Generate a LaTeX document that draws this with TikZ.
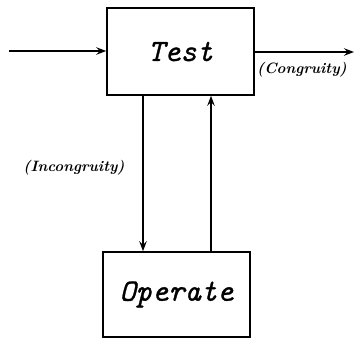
\documentclass[tikz,border=0pt]{standalone}
\usepackage{fontspec}
\usetikzlibrary{arrows.meta}
\newfontfamily\blockfont[FakeBold=1]{Latin Modern Mono}
\tikzset{
  block/.style={draw, line width=1.6pt, inner sep=0pt, minimum width=147pt,
    font=\fontsize{31}{31}\selectfont\blockfont\itshape},
  flow/.style={line width=1.5pt, -{Stealth[length=10pt, width=7.5pt, inset=3.5pt]}},
  note/.style={font=\fontsize{15}{17}\selectfont\rmfamily\bfseries\itshape}
}
\begin{document}
\begin{tikzpicture}[x=1pt, y=-1pt]
  \useasboundingbox (0,0) rectangle (354,338);
  % the two blocks of the loop
  \node[block, minimum height=87pt] (test) at (180.5,51.5) {Test};
  \node[block, minimum height=85pt] (operate) at (176.5,294.5) {Operate};
  % free ends of the entry and exit lines, and the two vertical rails
  \coordinate (in) at (9,51);
  \coordinate (out) at (354,52);
  \coordinate (down) at (143,0);
  \coordinate (up) at (211,0);
  % entry and exit
  \draw[flow] (in) -- (in -| test.west);
  \draw[flow] (test.east |- out) -- (out);
  % loop between Test and Operate
  \draw[flow] (test.south -| down) -- (operate.north -| down);
  \draw[flow] (operate.north -| up) -- (test.south -| up);
  % labels
  \node[note] (cong) at (302,70) {(Congruity)};
  \node[note] (incong) at (74,168) {(Incongruity)};
\end{tikzpicture}
\end{document}
